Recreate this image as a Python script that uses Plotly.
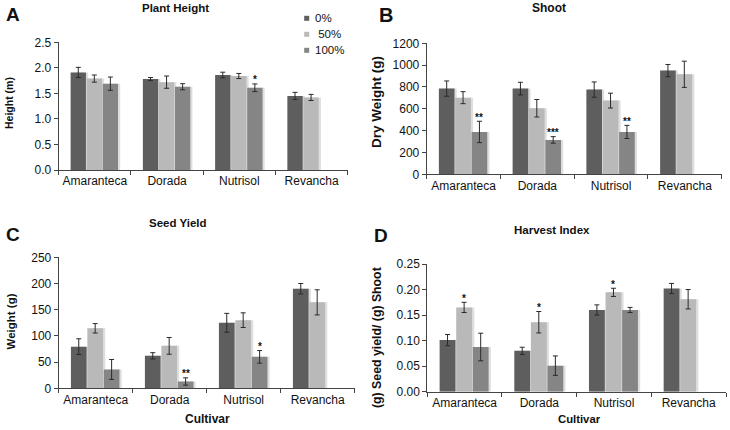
import plotly.graph_objects as go

W, H = 730, 430

cultivars = ["Amaranteca", "Dorada", "Nutrisol", "Revancha"]
series_names = ["0%", "50%", "100%"]
series_colors = ["#5e5e5e", "#b9b9b9", "#858585"]

# Panel A: Plant height (m)
height_0 = [1.91, 1.78, 1.86, 1.45]
height_50 = [1.79, 1.72, 1.84, 1.42]
height_100 = [1.69, 1.63, 1.61, None]
height_err_0 = [0.10, 0.03, 0.055, 0.07]
height_err_50 = [0.07, 0.12, 0.05, 0.06]
height_err_100 = [0.13, 0.06, 0.075, None]

# Panel B: Shoot dry weight (g)
shoot_0 = [785, 785, 776, 950]
shoot_50 = [702, 605, 675, 916]
shoot_100 = [388, 315, 388, None]
shoot_err_0 = [70, 58, 70, 56]
shoot_err_50 = [55, 80, 68, 120]
shoot_err_100 = [98, 30, 60, None]

# Panel C: Seed yield (g)
seed_0 = [79.5, 62, 125, 190]
seed_50 = [114.5, 81, 130, 164]
seed_100 = [36, 13, 60, None]
seed_err_0 = [15, 6, 18, 10]
seed_err_50 = [9, 16, 14, 24]
seed_err_100 = [19, 7, 12, None]

# Panel D: Harvest index
hi_0 = [0.101, 0.080, 0.160, 0.202]
hi_50 = [0.165, 0.136, 0.1945, 0.181]
hi_100 = [0.0875, 0.051, 0.160, None]
hi_err_0 = [0.011, 0.007, 0.010, 0.010]
hi_err_50 = [0.010, 0.021, 0.008, 0.019]
hi_err_100 = [0.027, 0.019, 0.005, None]

# significance marks: (cultivar index, series index, label)
sig_A = [(2, 2, "*")]
sig_B = [(0, 2, "**"), (1, 2, "***"), (2, 2, "**")]
sig_C = [(1, 2, "**"), (2, 2, "*")]
sig_D = [(0, 1, "*"), (1, 1, "*"), (2, 1, "*")]

FONT = "Liberation Sans, Arial, sans-serif"
BAR_W = 0.212
OFFSETS = [-0.335, -0.113, 0.109]
SHADOW_DX = 0.03

def fx(x):
    return x / W

def fy(y):
    return 1 - y / H

panels = [
    dict(vals=[height_0, height_50, height_100],
         errs=[height_err_0, height_err_50, height_err_100],
         sig=sig_A, xdom=(58.7, 347.7), ydom=(170, 42.3),
         yrange=[0, 2.5001], dtick=0.5, fmt=".1f"),
    dict(vals=[shoot_0, shoot_50, shoot_100],
         errs=[shoot_err_0, shoot_err_50, shoot_err_100],
         sig=sig_B, xdom=(426.7, 721.7), ydom=(174.3, 43.3),
         yrange=[0, 1200.01], dtick=200, fmt="d"),
    dict(vals=[seed_0, seed_50, seed_100],
         errs=[seed_err_0, seed_err_50, seed_err_100],
         sig=sig_C, xdom=(58.7, 354.7), ydom=(388.3, 257.3),
         yrange=[0, 250.001], dtick=50, fmt="d"),
    dict(vals=[hi_0, hi_50, hi_100],
         errs=[hi_err_0, hi_err_50, hi_err_100],
         sig=sig_D, xdom=(427.3, 726), ydom=(391.7, 264),
         yrange=[0, 0.250001], dtick=0.05, fmt=".2f"),
]

fig = go.Figure()
annotations = []
shapes = []

for p_i, p in enumerate(panels):
    sfx = "" if p_i == 0 else str(p_i + 1)
    xa, ya = "x" + sfx, "y" + sfx
    # shadows first
    for k in range(3):
        fig.add_trace(go.Bar(
            x=cultivars, y=p["vals"][k], xaxis=xa, yaxis=ya,
            offset=OFFSETS[k] + SHADOW_DX, width=BAR_W,
            marker=dict(color="#dedede", line=dict(width=0)),
            showlegend=False, hoverinfo="skip"))
    for k in range(3):
        fig.add_trace(go.Bar(
            x=cultivars, y=p["vals"][k], xaxis=xa, yaxis=ya,
            offset=OFFSETS[k], width=BAR_W, name=series_names[k],
            marker=dict(color=series_colors[k], line=dict(width=0)),
            error_y=dict(type="data", array=p["errs"][k], visible=True,
                         color="#2a2a2a", thickness=1, width=2.5),
            showlegend=False))
    for (ci, si, lab) in p["sig"]:
        top = p["vals"][si][ci] + p["errs"][si][ci]
        annotations.append(dict(
            x=ci + OFFSETS[si] + BAR_W / 2, y=top, xref=xa, yref=ya,
            text="<b>" + lab + "</b>", showarrow=False,
            font=dict(size=10, color="#111", family=FONT),
            yanchor="middle", yshift=4))
    x0, x1 = p["xdom"]
    yb, yt = p["ydom"]
    layout_x = dict(domain=[fx(x0), fx(x1)], type="category",
                    tickson="boundaries", ticks="outside", ticklen=4,
                    tickcolor="#444", showline=True, linecolor="#444",
                    linewidth=1, showgrid=False, range=[-0.5, 3.5],
                    tickangle=0, automargin=False,
                    tickfont=dict(size=12, color="#111", family=FONT),
                    anchor=ya, fixedrange=True)
    layout_y = dict(domain=[fy(yb), fy(yt)], range=p["yrange"],
                    dtick=p["dtick"], tick0=0, tickformat=p["fmt"],
                    ticks="outside", ticklen=4, tickcolor="#444",
                    showline=True, linecolor="#444", linewidth=1,
                    showgrid=False, zeroline=False, automargin=False,
                    tickfont=dict(size=12, color="#111", family=FONT),
                    anchor=xa, fixedrange=True)
    fig.layout["xaxis" + sfx] = layout_x
    fig.layout["yaxis" + sfx] = layout_y

def text_ann(x, y, text, size, angle=0, bold=True):
    annotations.append(dict(
        x=fx(x), y=fy(y), xref="paper", yref="paper",
        text=("<b>" + text + "</b>") if bold else text,
        showarrow=False, textangle=angle, xanchor="center", yanchor="middle",
        font=dict(size=size, color="#111", family=FONT)))

# panel letters
text_ann(12.5, 15, "A", 19)
text_ann(386, 15, "B", 20)
text_ann(13, 234.5, "C", 19)
text_ann(380.5, 235.5, "D", 19)

# panel titles
text_ann(175.7, 8.5, "Plant Height", 11.5)
text_ann(549, 8.5, "Shoot", 12)
text_ann(178.3, 223, "Seed Yield", 11.5)
text_ann(552, 230, "Harvest Index", 11.5)

# y axis titles
text_ann(9, 103, "Height (m)", 10.5, angle=-90)
text_ann(376, 102, "Dry Weight (g)", 13.5, angle=-90)
text_ann(10.5, 322, "Weight (g)", 11.5, angle=-90)
text_ann(377, 338, "(g) Seed yield/ (g) Shoot", 12.3, angle=-90)

# x axis titles
text_ann(207.5, 419, "Cultivar", 12)
text_ann(579, 419, "Cultivar", 11.3)

# legend (squares + labels)
legend_y = [18.3, 34.3, 50.3]
legend_labels = ["0%", " 50%", "100%"]
for k in range(3):
    cx, cy = 306.7, legend_y[k]
    shapes.append(dict(type="rect", xref="paper", yref="paper",
                       x0=fx(cx - 2.5), x1=fx(cx + 2.5),
                       y0=fy(cy + 2.5), y1=fy(cy - 2.5),
                       fillcolor=series_colors[k], line=dict(width=0)))
    annotations.append(dict(
        x=fx(312.5), y=fy(cy), xref="paper", yref="paper",
        text=legend_labels[k].replace(" ", "&nbsp;"),
        showarrow=False, xanchor="left", yanchor="middle",
        font=dict(size=11.5, color="#111", family=FONT)))

fig.update_layout(
    width=W, height=H, autosize=False,
    margin=dict(l=0, r=0, t=0, b=0),
    paper_bgcolor="white", plot_bgcolor="white",
    barmode="overlay", showlegend=False, hovermode=False,
    annotations=annotations, shapes=shapes,
    font=dict(family=FONT, color="#111"),
)

fig.write_html(
    "out.html",
    config={"displayModeBar": False, "staticPlot": True},
    post_script="document.body.style.margin='0';document.body.style.overflow='hidden';",
)
